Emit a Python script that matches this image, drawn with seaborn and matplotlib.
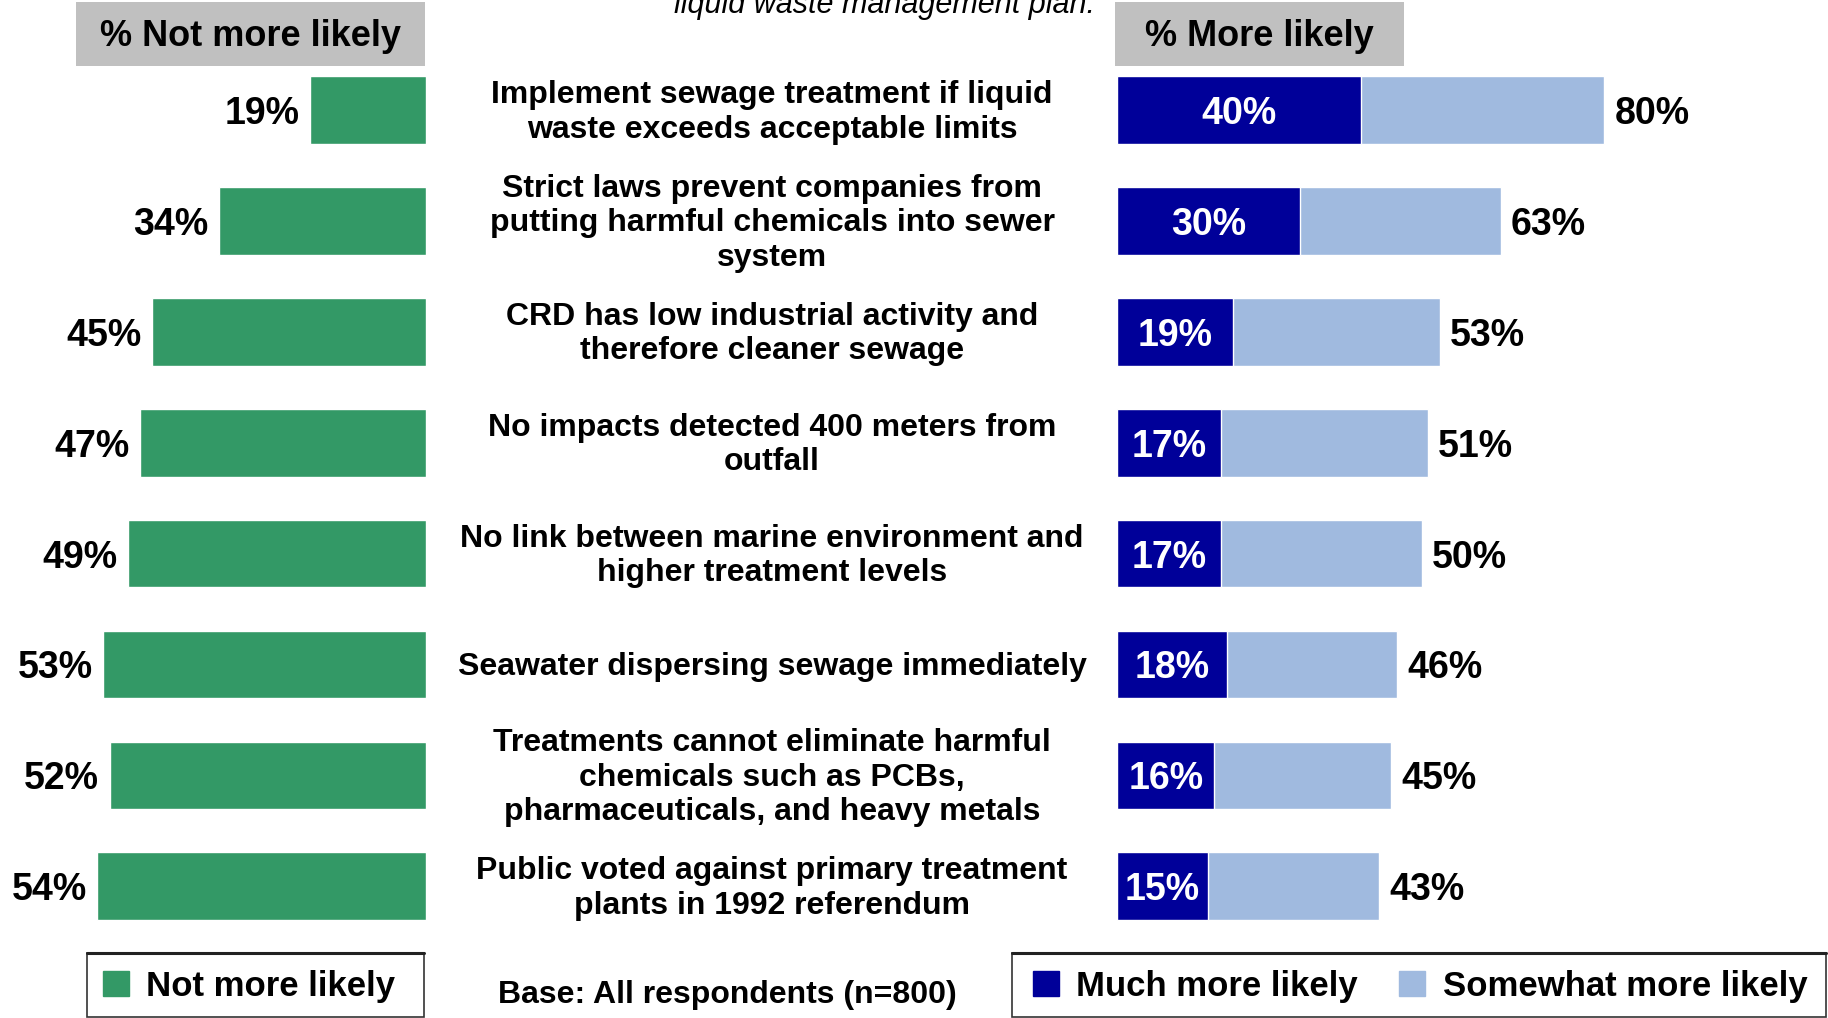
import numpy as np
import pandas as pd
import matplotlib.pyplot as plt
import seaborn as sns
from matplotlib.patches import Rectangle, Patch
from matplotlib.lines import Line2D
from matplotlib.transforms import blended_transform_factory

# ── Data ─────────────────────────────────────────────────────────────────────
statements = [
    "Implement sewage treatment if liquid\nwaste exceeds acceptable limits",
    "Strict laws prevent companies from\nputting harmful chemicals into sewer\nsystem",
    "CRD has low industrial activity and\ntherefore cleaner sewage",
    "No impacts detected 400 meters from\noutfall",
    "No link between marine environment and\nhigher treatment levels",
    "Seawater dispersing sewage immediately",
    "Treatments cannot eliminate harmful\nchemicals such as PCBs,\npharmaceuticals, and heavy metals",
    "Public voted against primary treatment\nplants in 1992 referendum",
]
not_more_likely = [19, 34, 45, 47, 49, 53, 52, 54]
much_more_likely = [40, 30, 19, 17, 17, 18, 16, 15]
total_more_likely = [80, 63, 53, 51, 50, 46, 45, 43]

GREEN = "#339966"
NAVY = "#000099"
LIGHT = "#A0BADF"
GREY = "#C0C0C0"

df = pd.DataFrame({
    "statement": statements,
    "not_more": not_more_likely,
    "much": much_more_likely,
    "total": total_more_likely,
})

sns.set_style("white")
plt.rcParams["font.family"] = ["Liberation Sans", "DejaVu Sans"]
plt.rcParams["text.color"] = "black"

W, H = 1828, 1018
fig = plt.figure(figsize=(W / 100, H / 100), dpi=100)

# y-range so that row centres land where the reference has them
y_top = -110 / 110.9
y_bot = (H - 110) / 110.9

# ── Left panel: Not more likely ──────────────────────────────────────────────
axL = fig.add_axes([0, 0, 426 / W, 1])
sns.barplot(data=df, x="not_more", y="statement", orient="h", color=GREEN,
            width=0.61, saturation=1, ax=axL)
axL.set_xlim(70, 0)
axL.set_ylim(y_bot, y_top)
axL.axis("off")
for i, v in enumerate(not_more_likely):
    axL.text(v + 1.7, i, f"{v}%", ha="right", va="center_baseline",
             fontsize=27, fontweight="bold", color="black")

# ── Right panel: More likely (stacked) ───────────────────────────────────────
axR = fig.add_axes([1117 / W, 0, (W - 1117) / W, 1])
sns.barplot(data=df, x="total", y="statement", orient="h", color=LIGHT,
            width=0.61, saturation=1, ax=axR)
sns.barplot(data=df, x="much", y="statement", orient="h", color=NAVY,
            width=0.61, saturation=1, ax=axR)
axR.set_xlim(0, (W - 1117) / 6.09)
axR.set_ylim(y_bot, y_top)
axR.axis("off")
for i, (m, t) in enumerate(zip(much_more_likely, total_more_likely)):
    axR.text(m / 2, i, f"{m}%", ha="center", va="center_baseline",
             fontsize=27, fontweight="bold", color="white")
    axR.text(t + 1.7, i, f"{t}%", ha="left", va="center_baseline",
             fontsize=27, fontweight="bold", color="black")

# ── Statement labels in the middle ───────────────────────────────────────────
mid = blended_transform_factory(fig.transFigure, axR.transData)
for i, s in enumerate(statements):
    fig.text(772 / W, i + 0.02, s, transform=mid, ha="center", va="center",
             fontsize=23, fontweight="bold", linespacing=1.2)

# ── Header boxes ─────────────────────────────────────────────────────────────
for x0, x1, label in [(76, 425, "% Not more likely"), (1115, 1404, "% More likely")]:
    fig.patches.append(Rectangle((x0 / W, 1 - 66 / H), (x1 - x0) / W, 64 / H,
                                 transform=fig.transFigure, facecolor=GREY,
                                 edgecolor="none", zorder=0))
    fig.text((x0 + x1) / 2 / W, 1 - 37 / H, label, ha="center", va="center",
             fontsize=26, fontweight="bold")

# partially visible title line at the very top
fig.text(885 / W, 1 - 13 / H, "liquid waste management plan.", ha="center",
         va="baseline", fontsize=22, fontstyle="italic")

# ── Legends ──────────────────────────────────────────────────────────────────
for x0, x1 in [(87, 424), (1012, 1826)]:
    fig.patches.append(Rectangle((x0 / W, 1 - 1017 / H), (x1 - x0) / W, 64 / H,
                                 transform=fig.transFigure, facecolor="white",
                                 edgecolor="#333333", linewidth=1.2, zorder=1))
    fig.lines.append(Line2D([x0 / W, x1 / W], [1 - 953 / H, 1 - 953 / H],
                            transform=fig.transFigure, color="#222222",
                            linewidth=2.2, zorder=2))

leg_kw = dict(fontsize=25, frameon=False, handlelength=0.75,
              handleheight=0.72, handletextpad=0.5, borderpad=0.45,
              borderaxespad=0, loc="upper left")
legL = fig.legend(handles=[Patch(color=GREEN, label="Not more likely")],
                  bbox_to_anchor=(87 / W, 1 - 954 / H), **leg_kw)
legR = fig.legend(handles=[Patch(color=NAVY, label="Much more likely"),
                           Patch(color=LIGHT, label="Somewhat more likely")],
                  ncol=2, columnspacing=1.2,
                  bbox_to_anchor=(1017 / W, 1 - 954 / H), **leg_kw)
for leg in (legL, legR):
    leg.set_zorder(3)
    for t in leg.get_texts():
        t.set_fontweight("bold")

fig.text(727 / W, 1 - 995 / H, "Base: All respondents (n=800)", ha="center",
         va="center", fontsize=23, fontweight="bold")

plt.savefig("out.png", dpi=100)
plt.close()
